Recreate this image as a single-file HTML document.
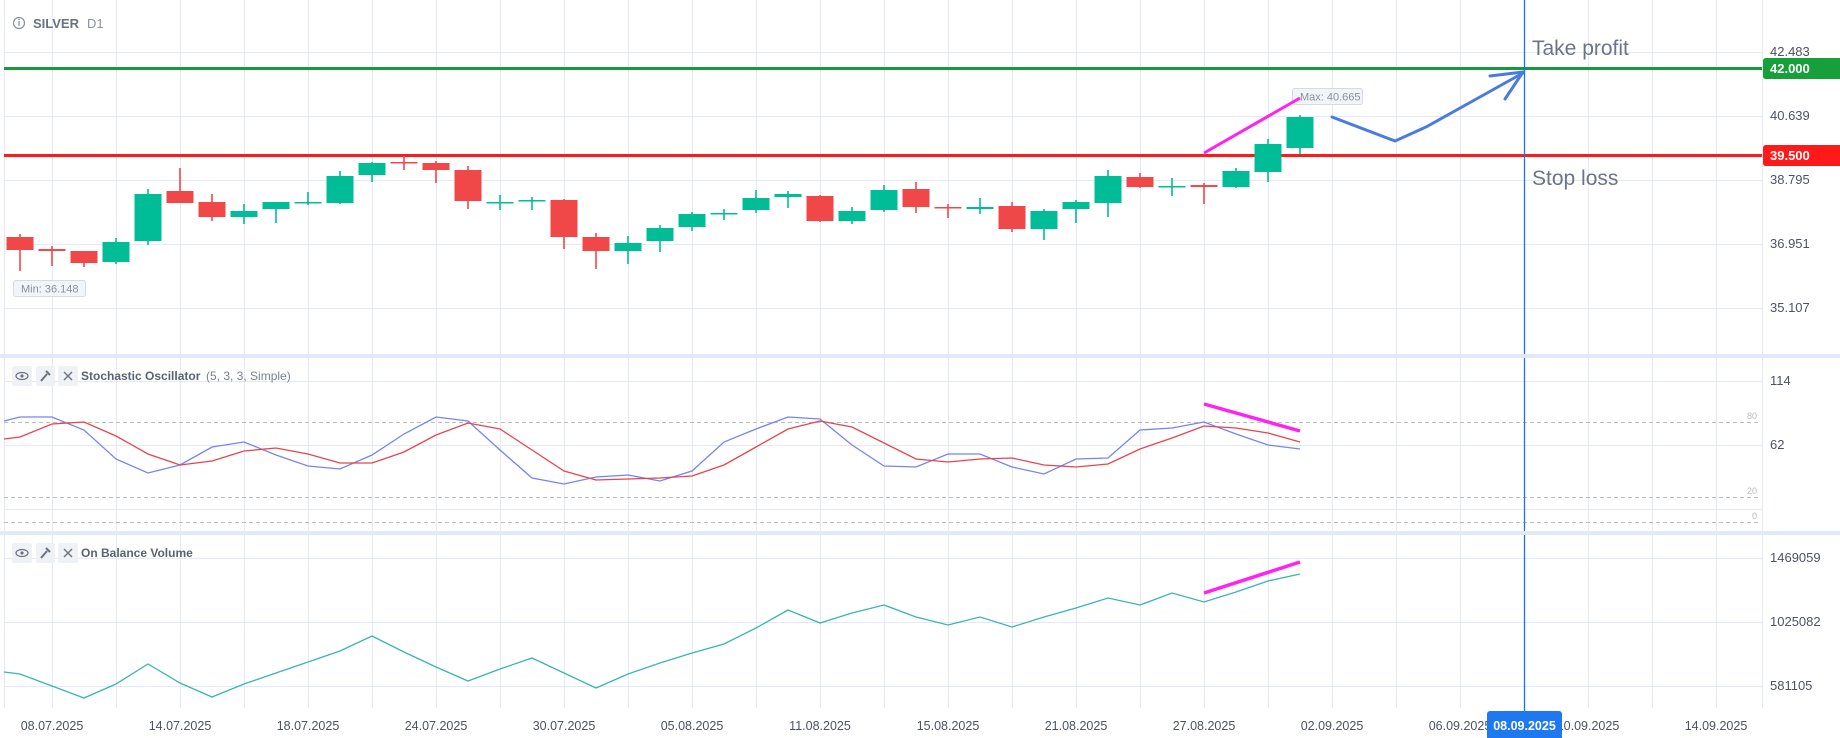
<!DOCTYPE html>
<html><head><meta charset="utf-8"><style>
html,body{margin:0;padding:0;background:#fff;}
svg{display:block;font-family:"Liberation Sans",sans-serif;}
</style></head><body>
<svg width="1840" height="738" viewBox="0 0 1840 738" xmlns="http://www.w3.org/2000/svg">
<rect width="1840" height="738" fill="#fff"/>
<g stroke="#e3e9f7" stroke-width="1">
<line x1="4.5" y1="0" x2="4.5" y2="708"/>
<line x1="52.5" y1="0" x2="52.5" y2="708"/><line x1="116.5" y1="0" x2="116.5" y2="708"/><line x1="180.5" y1="0" x2="180.5" y2="708"/><line x1="244.5" y1="0" x2="244.5" y2="708"/><line x1="308.5" y1="0" x2="308.5" y2="708"/><line x1="372.5" y1="0" x2="372.5" y2="708"/><line x1="436.5" y1="0" x2="436.5" y2="708"/><line x1="500.5" y1="0" x2="500.5" y2="708"/><line x1="564.5" y1="0" x2="564.5" y2="708"/><line x1="628.5" y1="0" x2="628.5" y2="708"/><line x1="692.5" y1="0" x2="692.5" y2="708"/><line x1="756.5" y1="0" x2="756.5" y2="708"/><line x1="820.5" y1="0" x2="820.5" y2="708"/><line x1="884.5" y1="0" x2="884.5" y2="708"/><line x1="948.5" y1="0" x2="948.5" y2="708"/><line x1="1012.5" y1="0" x2="1012.5" y2="708"/><line x1="1076.5" y1="0" x2="1076.5" y2="708"/><line x1="1140.5" y1="0" x2="1140.5" y2="708"/><line x1="1204.5" y1="0" x2="1204.5" y2="708"/><line x1="1268.5" y1="0" x2="1268.5" y2="708"/><line x1="1332.5" y1="0" x2="1332.5" y2="708"/><line x1="1396.5" y1="0" x2="1396.5" y2="708"/><line x1="1460.5" y1="0" x2="1460.5" y2="708"/><line x1="1588.5" y1="0" x2="1588.5" y2="708"/><line x1="1652.5" y1="0" x2="1652.5" y2="708"/><line x1="1716.5" y1="0" x2="1716.5" y2="708"/>
<line x1="1762.5" y1="0" x2="1762.5" y2="708"/>
<line x1="4" y1="52.5" x2="1762" y2="52.5"/><line x1="4" y1="116.5" x2="1762" y2="116.5"/><line x1="4" y1="180.5" x2="1762" y2="180.5"/><line x1="4" y1="244.5" x2="1762" y2="244.5"/><line x1="4" y1="308.5" x2="1762" y2="308.5"/>
<line x1="4" y1="381.5" x2="1762" y2="381.5"/><line x1="4" y1="445.5" x2="1762" y2="445.5"/><line x1="4" y1="509.5" x2="1762" y2="509.5"/>
<line x1="4" y1="558.5" x2="1762" y2="558.5"/><line x1="4" y1="622.5" x2="1762" y2="622.5"/><line x1="4" y1="686.5" x2="1762" y2="686.5"/>
</g>
<rect x="0" y="354" width="1840" height="4" fill="#e1e8f7"/>
<rect x="0" y="531" width="1840" height="4" fill="#e1e8f7"/>
<g stroke="#bdbdbd" stroke-width="1" stroke-dasharray="4,3">
<line x1="4" y1="422.5" x2="1760" y2="422.5"/><line x1="4" y1="497.5" x2="1760" y2="497.5"/><line x1="4" y1="522.5" x2="1760" y2="522.5"/>
</g>
<g font-size="9" fill="#bbb" text-anchor="end"><text x="1757" y="419">80</text><text x="1757" y="494">20</text><text x="1757" y="519">0</text></g>

<circle cx="19" cy="23" r="5.5" fill="none" stroke="#8a909c" stroke-width="1.2"/>
<line x1="19" y1="21" x2="19" y2="26" stroke="#8a909c" stroke-width="1.3"/><circle cx="19" cy="19.5" r="0.8" fill="#8a909c"/>
<text x="33" y="28" font-size="13" font-weight="bold" fill="#6b7280">SILVER</text>
<text x="87" y="28" font-size="13" fill="#8a909c">D1</text>

<line x1="4" y1="68.5" x2="1762" y2="68.5" stroke="#169a3a" stroke-width="3"/>
<line x1="4" y1="155.5" x2="1762" y2="155.5" stroke="#ff1a1a" stroke-width="3"/>

<g fill="#f04848" stroke="#f04848" stroke-width="1.6">
<line x1="20" y1="234" x2="20" y2="271"/><rect x="6.5" y="237" width="27" height="13" stroke="none"/>
<line x1="52" y1="246" x2="52" y2="266"/><rect x="38.5" y="249" width="27" height="2" stroke="none"/>
<line x1="84" y1="251" x2="84" y2="267"/><rect x="70.5" y="251" width="27" height="12" stroke="none"/>
<line x1="180" y1="168" x2="180" y2="203"/><rect x="166.5" y="191" width="27" height="12" stroke="none"/>
<line x1="212" y1="194" x2="212" y2="221"/><rect x="198.5" y="202" width="27" height="15" stroke="none"/>
<line x1="404" y1="156" x2="404" y2="170"/><rect x="390.5" y="162" width="27" height="1.5" stroke="none"/>
<line x1="436" y1="161" x2="436" y2="183"/><rect x="422.5" y="163" width="27" height="7" stroke="none"/>
<line x1="468" y1="166" x2="468" y2="209"/><rect x="454.5" y="170" width="27" height="31" stroke="none"/>
<line x1="564" y1="199" x2="564" y2="249"/><rect x="550.5" y="200" width="27" height="37" stroke="none"/>
<line x1="596" y1="233" x2="596" y2="269"/><rect x="582.5" y="237" width="27" height="14" stroke="none"/>
<line x1="820" y1="195" x2="820" y2="222"/><rect x="806.5" y="196" width="27" height="25" stroke="none"/>
<line x1="916" y1="182" x2="916" y2="213"/><rect x="902.5" y="189" width="27" height="18" stroke="none"/>
<line x1="948" y1="204" x2="948" y2="218"/><rect x="934.5" y="207" width="27" height="1.5" stroke="none"/>
<line x1="1012" y1="202" x2="1012" y2="232"/><rect x="998.5" y="206" width="27" height="23" stroke="none"/>
<line x1="1140" y1="173" x2="1140" y2="188"/><rect x="1126.5" y="177" width="27" height="10" stroke="none"/>
<line x1="1204" y1="183" x2="1204" y2="204"/><rect x="1190.5" y="185" width="27" height="2" stroke="none"/>
</g>
<g fill="#00bc97" stroke="#00bc97" stroke-width="1.6">
<line x1="116" y1="238" x2="116" y2="264"/><rect x="102.5" y="242" width="27" height="20" stroke="none"/>
<line x1="148" y1="189" x2="148" y2="245"/><rect x="134.5" y="194" width="27" height="47" stroke="none"/>
<line x1="244" y1="204" x2="244" y2="224"/><rect x="230.5" y="211" width="27" height="6" stroke="none"/>
<line x1="276" y1="202" x2="276" y2="223"/><rect x="262.5" y="202" width="27" height="7" stroke="none"/>
<line x1="308" y1="192" x2="308" y2="205"/><rect x="294.5" y="202" width="27" height="1.5" stroke="none"/>
<line x1="340" y1="171" x2="340" y2="204"/><rect x="326.5" y="176" width="27" height="27" stroke="none"/>
<line x1="372" y1="162" x2="372" y2="182"/><rect x="358.5" y="163" width="27" height="12" stroke="none"/>
<line x1="500" y1="195" x2="500" y2="210"/><rect x="486.5" y="202" width="27" height="1.5" stroke="none"/>
<line x1="532" y1="197" x2="532" y2="210"/><rect x="518.5" y="200" width="27" height="1.5" stroke="none"/>
<line x1="628" y1="236" x2="628" y2="264"/><rect x="614.5" y="243" width="27" height="8" stroke="none"/>
<line x1="660" y1="225" x2="660" y2="252"/><rect x="646.5" y="228" width="27" height="13" stroke="none"/>
<line x1="692" y1="212" x2="692" y2="231"/><rect x="678.5" y="214" width="27" height="13" stroke="none"/>
<line x1="724" y1="209" x2="724" y2="220"/><rect x="710.5" y="213" width="27" height="1.5" stroke="none"/>
<line x1="756" y1="190" x2="756" y2="213"/><rect x="742.5" y="198" width="27" height="12" stroke="none"/>
<line x1="788" y1="191" x2="788" y2="208"/><rect x="774.5" y="194" width="27" height="3" stroke="none"/>
<line x1="852" y1="207" x2="852" y2="224"/><rect x="838.5" y="211" width="27" height="10" stroke="none"/>
<line x1="884" y1="185" x2="884" y2="212"/><rect x="870.5" y="190" width="27" height="20" stroke="none"/>
<line x1="980" y1="198" x2="980" y2="214"/><rect x="966.5" y="207" width="27" height="2" stroke="none"/>
<line x1="1044" y1="209" x2="1044" y2="240"/><rect x="1030.5" y="211" width="27" height="18" stroke="none"/>
<line x1="1076" y1="200" x2="1076" y2="223"/><rect x="1062.5" y="202" width="27" height="7" stroke="none"/>
<line x1="1108" y1="170" x2="1108" y2="217"/><rect x="1094.5" y="176" width="27" height="27" stroke="none"/>
<line x1="1172" y1="178" x2="1172" y2="196"/><rect x="1158.5" y="186" width="27" height="1.5" stroke="none"/>
<line x1="1236" y1="168" x2="1236" y2="188"/><rect x="1222.5" y="171" width="27" height="16" stroke="none"/>
<line x1="1268" y1="139" x2="1268" y2="182"/><rect x="1254.5" y="144" width="27" height="28" stroke="none"/>
<line x1="1300" y1="115" x2="1300" y2="154"/><rect x="1286.5" y="117" width="27" height="31" stroke="none"/>
</g>

<rect x="13.5" y="280.5" width="72" height="16" rx="2" fill="#f1f4f8" stroke="#d5dbe5"/>
<text x="21" y="292.5" font-size="11" fill="#8a909c">Min: 36.148</text>
<rect x="1292.5" y="88.5" width="70" height="16" rx="2" fill="#f1f4f8" stroke="#d5dbe5"/>
<text x="1300" y="100.5" font-size="11" fill="#8a909c">Max: 40.665</text>

<line x1="1204" y1="153" x2="1300" y2="98" stroke="#ff22f0" stroke-width="3"/>
<line x1="1204" y1="404" x2="1300" y2="431" stroke="#ff22f0" stroke-width="3.5"/>
<line x1="1204" y1="593" x2="1300" y2="562" stroke="#ff22f0" stroke-width="3.5"/>

<polyline points="1332,117 1395,141 1426,127 1523,73" fill="none" stroke="#4a7be0" stroke-width="3" stroke-linejoin="round" stroke-linecap="round"/>
<polyline points="1490,76 1523,72 1505,99" fill="none" stroke="#4a7be0" stroke-width="3" stroke-linejoin="round" stroke-linecap="round"/>

<line x1="1524.5" y1="0" x2="1524.5" y2="712" stroke="#1a73e8" stroke-width="1.3"/>

<text x="1532" y="55" font-size="21" fill="#6b7587">Take profit</text>
<text x="1532" y="185" font-size="21" fill="#6b7587">Stop loss</text>

<polyline fill="none" stroke="#7585f0" stroke-width="1.3" points="4,421 20,417 52,417 84,430 116,459 148,473 180,465 212,447 244,442 276,455 308,466 340,469 372,455 404,434 436,417 468,421 500,450 532,478 564,484 596,477 628,475 660,481 692,471 724,442 756,429 788,417 820,419 852,445 884,466 916,467 948,454 980,454 1012,467 1044,474 1076,459 1108,458 1140,430 1172,428 1204,422 1236,434 1268,445 1300,449"/>
<polyline fill="none" stroke="#e8444c" stroke-width="1.3" points="4,439 20,437 52,424 84,422 116,436 148,454 180,465 212,461 244,451 276,448 308,454 340,463 372,463 404,452 436,435 468,423 500,429 532,450 564,471 596,480 628,479 660,478 692,476 724,465 756,447 788,429 820,421 852,427 884,443 916,459 948,462 980,459 1012,458 1044,465 1076,467 1108,464 1140,449 1172,438 1204,426 1236,428 1268,433 1300,442"/>

<polyline fill="none" stroke="#3bb5ad" stroke-width="1.3" points="4,672 20,674 52,686 84,698 116,684 148,664 180,683 212,697 244,684 276,673 308,662 340,651 372,636 404,652 436,667 468,681 500,669 532,658 564,673 596,688 628,674 660,663 692,653 724,644 756,628 788,610 820,623 852,613 884,605 916,617 948,625 980,617 1012,627 1044,617 1076,608 1108,598 1140,605 1172,593 1204,602 1236,592 1268,581 1300,574"/>

<g>
<rect x="12" y="366" width="20" height="20" rx="2" fill="#eef1f6"/><rect x="36" y="366" width="19" height="20" rx="2" fill="#eef1f6"/><rect x="58" y="366" width="20" height="20" rx="2" fill="#eef1f6"/>
<ellipse cx="22" cy="376" rx="6" ry="3.5" fill="none" stroke="#6b7280" stroke-width="1.2"/><circle cx="22" cy="376" r="1.6" fill="#6b7280"/>
<path d="M41 381 L47 374 M46 371 L50 375" stroke="#6b7280" stroke-width="2" fill="none"/>
<path d="M64 372 L72 380 M72 372 L64 380" stroke="#6b7280" stroke-width="1.4"/>
<text x="81" y="380" font-size="12" font-weight="bold" fill="#5b6372">Stochastic Oscillator</text>
<text x="206" y="380" font-size="12" fill="#7a8190">(5, 3, 3, Simple)</text>
<rect x="12" y="543" width="20" height="20" rx="2" fill="#eef1f6"/><rect x="36" y="543" width="19" height="20" rx="2" fill="#eef1f6"/><rect x="58" y="543" width="20" height="20" rx="2" fill="#eef1f6"/>
<ellipse cx="22" cy="553" rx="6" ry="3.5" fill="none" stroke="#6b7280" stroke-width="1.2"/><circle cx="22" cy="553" r="1.6" fill="#6b7280"/>
<path d="M41 558 L47 551 M46 548 L50 552" stroke="#6b7280" stroke-width="2" fill="none"/>
<path d="M64 549 L72 557 M72 549 L64 557" stroke="#6b7280" stroke-width="1.4"/>
<text x="81" y="557" font-size="12" font-weight="bold" fill="#5b6372">On Balance Volume</text>
</g>

<rect x="1763" y="0" width="77" height="738" fill="#fff"/>
<g font-size="13" fill="#4d5360">
<text x="1770" y="56">42.483</text>
<text x="1770" y="120">40.639</text>
<text x="1770" y="184">38.795</text>
<text x="1770" y="248">36.951</text>
<text x="1770" y="312">35.107</text>
<text x="1770" y="385">114</text>
<text x="1770" y="449">62</text>
<text x="1770" y="562">1469059</text>
<text x="1770" y="626">1025082</text>
<text x="1770" y="690">581105</text>
</g>
<rect x="0" y="354" width="1840" height="4" fill="#e1e8f7"/>
<rect x="0" y="531" width="1840" height="4" fill="#e1e8f7"/>
<path d="M1766 58 H1840 V79 H1766 Q1763 79 1763 76 V61 Q1763 58 1766 58 Z" fill="#17a03a"/>
<text x="1770" y="73" font-size="13" font-weight="bold" fill="#fff">42.000</text>
<path d="M1766 145 H1840 V166 H1766 Q1763 166 1763 163 V148 Q1763 145 1766 145 Z" fill="#ff1a1a"/>
<text x="1770" y="160" font-size="13" font-weight="bold" fill="#fff">39.500</text>

<g font-size="12.5" fill="#4d5360" text-anchor="middle">
<text x="52" y="730">08.07.2025</text>
<text x="180" y="730">14.07.2025</text>
<text x="308" y="730">18.07.2025</text>
<text x="436" y="730">24.07.2025</text>
<text x="564" y="730">30.07.2025</text>
<text x="692" y="730">05.08.2025</text>
<text x="820" y="730">11.08.2025</text>
<text x="948" y="730">15.08.2025</text>
<text x="1076" y="730">21.08.2025</text>
<text x="1204" y="730">27.08.2025</text>
<text x="1332" y="730">02.09.2025</text>
<text x="1460" y="730">06.09.2025</text>
<text x="1588" y="730">10.09.2025</text>
<text x="1716" y="730">14.09.2025</text>
</g>
<rect x="1487" y="711" width="75" height="30" rx="3" fill="#1e78f0"/>
<text x="1524.5" y="730" font-size="12.5" font-weight="bold" fill="#fff" text-anchor="middle">08.09.2025</text>
</svg>
</body></html>
